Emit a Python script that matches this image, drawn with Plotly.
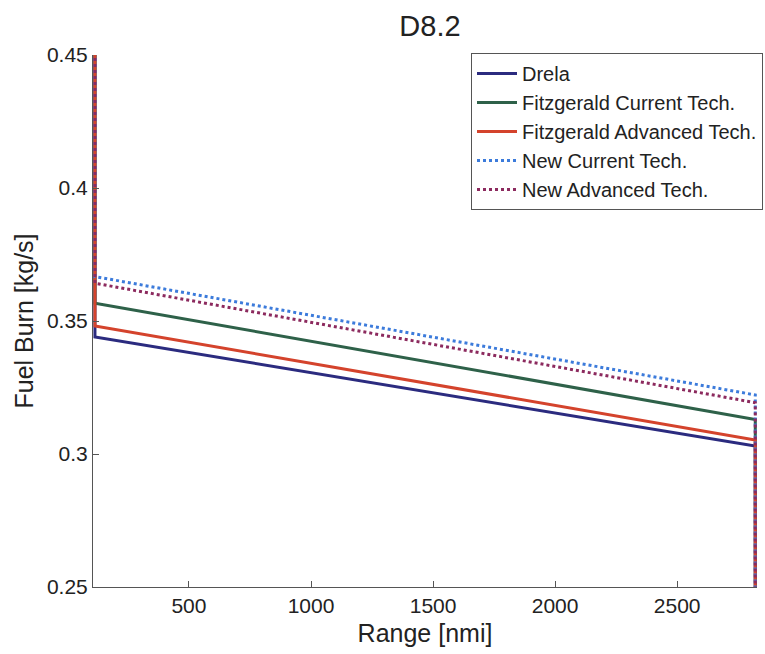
import plotly.graph_objects as go

# Mission segment: climb spike at start of cruise, linear cruise burn, descent drop at end
series_names = [
    "Drela",
    "Fitzgerald Current Tech.",
    "Fitzgerald Advanced Tech.",
    "New Current Tech.",
    "New Advanced Tech.",
]
cruise_start_nmi = [115, 115, 115, 115, 115]
cruise_end_nmi = [2820, 2820, 2820, 2820, 2820]
burn_start = [0.344, 0.3567, 0.3481, 0.3667, 0.3642]
burn_end = [0.303, 0.313, 0.3053, 0.3222, 0.3193]
climb_burn = [0.60, 0.60, 0.60, 0.60, 0.60]
descent_burn = [0.20, 0.20, 0.20, 0.20, 0.20]

colors = ["#2B2B7F", "#2E6149", "#D4432C", "#3C7BDB", "#8C2A5E"]
dashes = ["solid", "solid", "solid", "dot", "dot"]

fig = go.Figure()
for i, name in enumerate(series_names):
    xs = [cruise_start_nmi[i], cruise_start_nmi[i], cruise_end_nmi[i], cruise_end_nmi[i]]
    ys = [climb_burn[i], burn_start[i], burn_end[i], descent_burn[i]]
    fig.add_trace(go.Scatter(
        x=xs, y=ys, mode="lines", name=name,
        line=dict(color=colors[i], width=3, dash=dashes[i]),
    ))

font_family = "Liberation Sans, Arial, Helvetica, sans-serif"

# plot area in pixels: x 93..757, y 55..587
plot_w, plot_h = 664, 532

fig.update_layout(
    width=765, height=654,
    margin=dict(l=93, r=8, t=55, b=67, autoexpand=False),
    paper_bgcolor="white", plot_bgcolor="white",
    font=dict(family=font_family, size=21, color="#222222"),
    title=dict(text="D8.2", x=430 / 765, xanchor="center",
               y=1 - 26 / 654, yanchor="middle",
               font=dict(size=29, color="#222222")),
    showlegend=True,
    legend=dict(
        x=(763 - 93) / plot_w, xanchor="right",
        y=1 + 2 / plot_h, yanchor="top",
        bgcolor="white", bordercolor="#555555", borderwidth=1,
        font=dict(size=20, color="#222222"),
        tracegroupgap=0, itemwidth=40,
    ),
    xaxis=dict(
        range=[107, 2827],
        tickvals=[500, 1000, 1500, 2000, 2500],
        ticks="inside", ticklen=6, tickcolor="#555555",
        showline=True, linecolor="#555555", linewidth=1,
        showgrid=False, zeroline=False, mirror=False,
        title=dict(text="Range [nmi]", font=dict(size=25), standoff=8),
        tickfont=dict(size=21),
    ),
    yaxis=dict(
        range=[0.25, 0.45],
        tickvals=[0.25, 0.3, 0.35, 0.4, 0.45],
        ticktext=["0.25", "0.3", "0.35", "0.4", "0.45"],
        ticks="inside", ticklen=6, tickcolor="#555555",
        showline=True, linecolor="#555555", linewidth=1,
        showgrid=False, zeroline=False, mirror=False,
        title=dict(text="Fuel Burn [kg/s]", font=dict(size=25), standoff=6),
        tickfont=dict(size=21),
    ),
)

fig.write_html("out.html")
